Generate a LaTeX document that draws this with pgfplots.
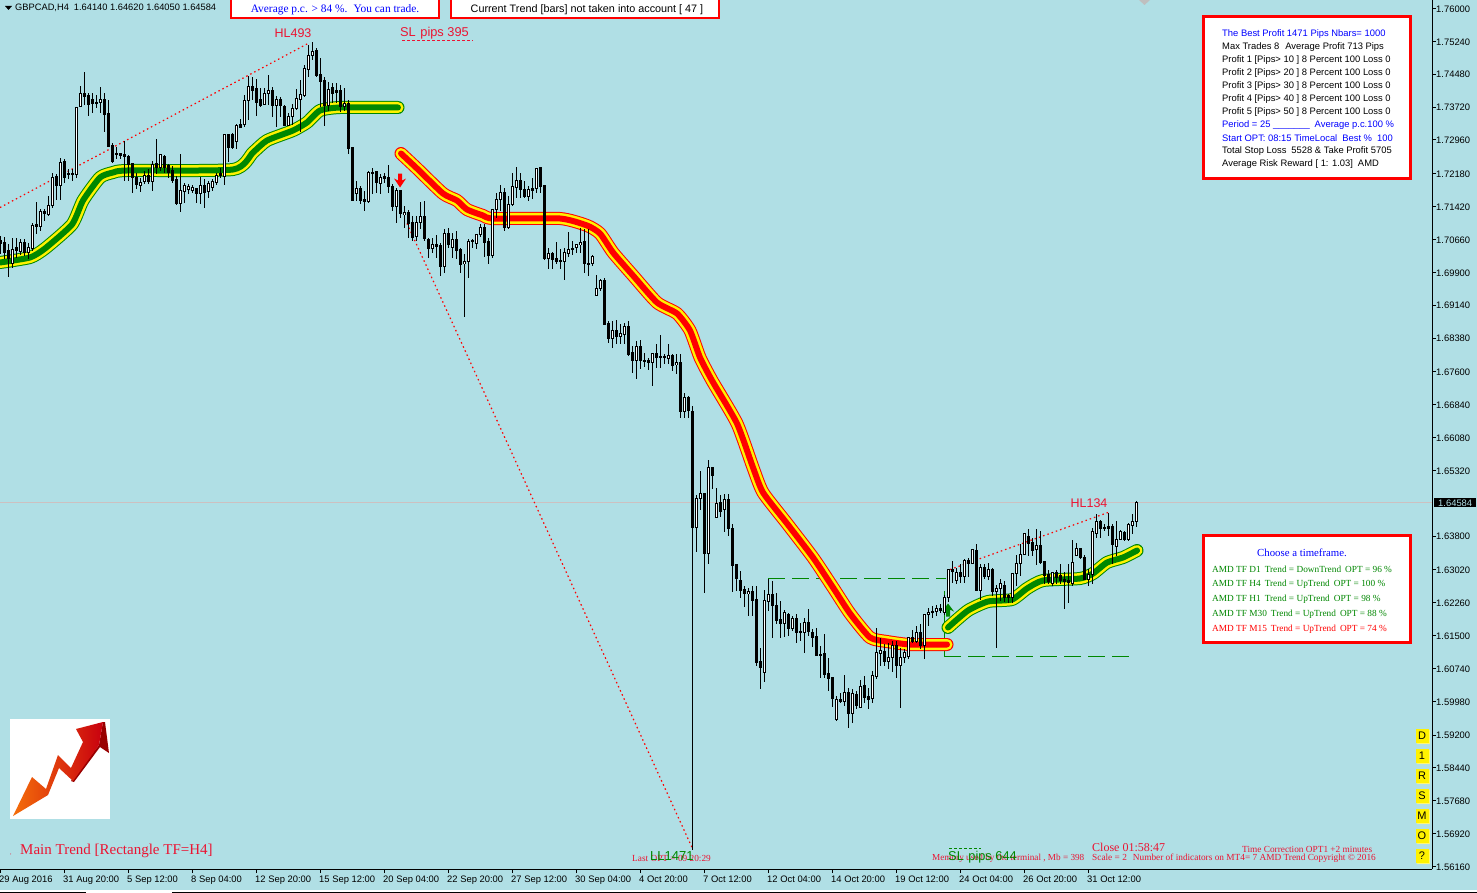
\documentclass[border=0pt]{standalone}
\usepackage{fontspec}
\usepackage{pgfplots}
\usepackage{pgfplotstable}
\pgfplotsset{compat=1.18}
\setmainfont{Liberation Sans}
\newfontfamily\serifa{Liberation Serif}
\newcommand{\fs}[1]{\fontsize{#1}{#1}\selectfont}
\definecolor{bg}{RGB}{176,223,229}
\definecolor{crim}{RGB}{235,20,50}
\definecolor{gg}{RGB}{0,135,0}
\definecolor{bidc}{RGB}{205,192,192}
% Chart rows (downward from the top of the chart) converted to GBPCAD price
\newcommand{\PR}[1]{1.76-(\thisrow{#1}-8)*0.00023124}
\newcommand{\KK}{0.00023124}
% bar o h l c, in chart rows
\pgfplotstableread{
k o h l c
0 240 235 253 243
1 242 236 258 252
2 250 243 276 258
3 263 237 267 249
4 247 237 257 250
5 251 238 254 242
6 242 238 255 252
7 252 242 258 247
8 248 222 250 225
9 224 201 233 226
10 226 208 230 211
11 211 208 220 213
12 214 195 215 205
13 205 172 207 177
14 176 173 199 185
15 185 157 199 162
16 161 158 182 177
17 173 168 178 174
18 173 168 180 174
19 174 106 177 107
20 106 86 107 93
21 93 72 105 96
22 95 93 116 104
23 99 93 113 103
24 102 95 108 103
25 102 87 113 99
26 99 93 132 114
27 113 100 147 146
28 145 142 162 161
29 153 146 159 154
30 153 152 158 155
31 154 140 180 156
32 156 154 180 164
33 163 162 192 177
34 177 172 188 184
35 185 177 191 182
36 181 170 183 175
37 175 168 183 181
38 181 160 190 164
39 163 138 173 167
40 167 153 170 154
41 156 154 172 167
42 165 163 177 172
43 170 165 182 180
44 179 175 204 203
45 203 153 211 190
46 191 182 202 185
47 189 183 193 186
48 190 184 192 187
49 188 187 202 193
50 193 176 203 185
51 185 178 207 192
52 191 180 197 183
53 187 178 190 181
54 182 172 184 175
55 173 167 177 175
56 176 133 184 134
57 134 133 161 147
58 134 132 148 147
59 141 123 148 125
60 124 118 128 127
61 124 95 127 100
62 100 76 120 86
63 86 77 100 90
64 88 79 116 102
65 99 88 107 105
66 104 88 105 93
67 93 75 105 90
68 90 87 117 105
69 105 96 127 99
70 99 97 117 105
71 106 105 125 125
72 125 112 125 116
73 116 103 125 108
74 108 89 110 98
75 99 80 132 94
76 95 65 97 68
77 69 45 77 55
78 55 42 60 51
79 50 48 77 75
80 74 58 107 81
81 80 77 126 105
82 105 82 111 89
83 87 83 103 93
84 90 83 103 92
85 90 85 112 106
86 106 88 111 103
87 103 100 153 148
88 147 147 200 200
89 193 180 200 188
90 188 185 203 200
91 199 190 210 201
92 201 170 202 172
93 172 167 193 173
94 171 170 192 182
95 183 173 193 177
96 176 172 182 178
97 177 164 192 186
98 186 183 210 206
99 206 187 222 190
100 190 190 217 213
101 214 205 227 212
102 212 209 237 223
103 222 215 240 237
104 236 215 240 222
105 222 201 228 216
106 216 200 240 238
107 239 237 257 248
108 248 237 252 244
109 244 234 257 246
110 245 242 275 266
111 266 228 272 233
112 233 227 247 244
113 247 232 257 239
114 239 230 258 250
115 249 247 272 264
116 263 253 316 261
117 261 238 277 241
118 240 238 247 241
119 243 233 248 234
120 234 223 236 227
121 227 223 256 242
122 241 237 263 255
123 255 208 257 209
124 209 192 217 199
125 199 184 210 192
126 192 187 230 227
127 227 195 228 204
128 204 172 205 186
129 187 166 197 180
130 180 172 197 189
131 189 180 197 196
132 196 185 200 189
133 188 177 198 190
134 188 167 192 168
135 167 167 192 186
136 185 185 259 258
137 258 247 268 253
138 253 251 268 259
139 258 241 263 261
140 260 248 268 261
141 261 247 279 252
142 253 231 256 249
143 249 240 254 248
144 247 243 252 244
145 244 227 252 242
146 241 228 272 263
147 263 228 275 264
148 263 254 265 256
149 295 274 295 288
150 288 278 290 280
151 280 277 324 324
152 323 320 342 338
153 338 320 347 330
154 330 319 343 336
155 336 323 343 333
156 334 322 343 326
157 326 320 355 354
158 352 345 372 360
159 360 340 378 346
160 346 339 368 360
161 360 352 366 361
162 360 357 369 362
163 362 352 385 353
164 353 343 367 357
165 356 334 367 357
166 356 353 363 357
167 358 343 363 355
168 355 353 370 365
169 364 353 373 362
170 362 353 417 411
171 411 392 417 397
172 397 395 417 410
173 411 405 849 527
174 527 494 551 498
175 498 470 509 493
176 493 492 592 553
177 553 459 563 467
178 467 466 488 475
179 517 487 517 503
180 502 494 516 511
181 509 493 531 499
182 499 493 535 528
183 528 523 591 565
184 564 563 590 578
185 580 570 597 590
186 589 585 606 593
187 593 587 615 591
188 591 585 615 600
189 599 585 665 662
190 661 647 688 667
191 672 589 681 600
192 601 578 610 594
193 594 580 637 605
194 605 592 623 620
195 619 600 637 623
196 623 609 636 612
197 614 612 635 628
198 628 615 630 618
199 618 613 642 632
200 631 622 640 632
201 632 617 652 622
202 622 608 635 631
203 632 628 646 637
204 636 627 655 655
205 654 645 677 655
206 653 633 677 674
207 673 657 690 678
208 677 677 706 698
209 719 695 720 699
210 699 692 702 701
211 701 674 705 692
212 692 687 727 713
213 713 688 722 693
214 694 690 708 705
215 707 679 707 686
216 685 675 702 697
217 696 687 708 699
218 698 670 702 675
219 676 627 678 652
220 653 637 665 650
221 651 643 665 661
222 661 642 668 657
223 657 640 671 645
224 645 640 677 665
225 665 647 707 657
226 657 648 662 652
227 656 637 658 637
228 637 629 642 641
229 641 625 642 632
230 632 623 648 645
231 645 614 658 614
232 614 607 625 612
233 611 605 617 612
234 611 604 615 608
235 608 603 612 610
236 612 594 614 597
237 597 568 601 569
238 569 560 582 571
239 580 567 583 572
240 572 563 582 576
241 576 558 582 560
242 560 557 576 563
243 563 549 563 549
244 550 543 590 590
245 590 563 599 567
246 567 563 578 576
247 576 562 579 569
248 569 567 595 591
249 591 584 647 588
250 588 578 600 583
251 585 580 601 597
252 595 593 602 597
253 597 573 602 573
254 573 554 585 563
255 563 543 575 554
256 554 533 554 533
257 536 528 555 543
258 542 537 555 550
259 549 528 564 545
260 545 530 563 562
261 561 561 583 575
262 574 569 583 581
263 583 571 585 572
264 572 569 583 577
265 575 563 583 580
266 579 571 608 581
267 580 563 602 582
268 583 539 585 562
269 555 542 555 548
270 548 547 558 557
271 557 554 579 579
272 579 568 585 574
273 574 527 583 531
274 533 513 537 521
275 521 519 537 528
276 527 523 530 528
277 526 512 535 528
278 526 523 563 544
279 546 520 555 539
280 539 529 539 531
281 532 530 540 539
282 539 522 540 524
283 525 513 533 521
284 521 500 526 502
}\bars
\pgfplotstableread{
x y
0 262
30 257
45 248
72 224
83 200
100 177
113 172
127 170
233 169
253 152
267 140
293 130
307 122
320 110
340 107
398 107
}\greenA
\pgfplotstableread{
x y
401 153
417 168
443 193
457 200
467 209
483 215
493 218
560 218
587 225
600 233
613 252
633 275
657 302
677 313
690 330
700 357
712 380
737 423
753 467
763 492
787 523
813 557
833 587
850 613
870 637
887 641
910 644
947 644
}\redA
\pgfplotstableread{
x y
948 627
968 610
988 601
1012 599
1027 588
1043 580
1080 578
1093 573
1107 562
1123 557
1137 550
}\greenB
\pgfplotstableread{
x y
0 207
308 43
nan nan
407 223
692 847
nan nan
950 569
1108 512
}\redDots
\pgfplotstableread{
x y
768 578
946 578
nan nan
944 656
1130 656
}\greenDash
\pgfplotstableread{
x y
768 578
768 600
nan nan
944 590
944 656
}\greenVert
\pgfplotstableread{
x y
398 173
402 173
402 180
406 178
400 187
394 178
398 180
}\dnArrow
\pgfplotstableread{
x y
946 616
950 616
950 609
954 611
948 603
942 611
946 609
}\upArrow
\begin{document}
\begin{tikzpicture}
\useasboundingbox (0,0) rectangle (1477pt,-893pt);
\fill[bg] (0,0) rectangle (1477pt,-893pt);
\begin{axis}[
  at={(0pt,0pt)}, anchor=north west,
  scale only axis, width=1432pt, height=869pt,
  xmin=0, xmax=1432, ymin=1.56102, ymax=1.761966,
  axis x line=bottom, axis y line=right,
  axis line style={black,line width=1pt,-},
  tick style={black,line width=1pt},
  major tick length=4pt, tick align=outside,
  unbounded coords=jump,
  xtick={0,64,128,192,256,320,384,448,512,576,640,704,768,832,896,960,1024,1088},
  xticklabels={29 Aug 2016,31 Aug 20:00,5 Sep 12:00,8 Sep 04:00,12 Sep 20:00,15 Sep 12:00,20 Sep 04:00,22 Sep 20:00,27 Sep 12:00,30 Sep 04:00,4 Oct 20:00,7 Oct 12:00,12 Oct 04:00,14 Oct 20:00,19 Oct 12:00,24 Oct 04:00,26 Oct 20:00,31 Oct 12:00},
  x tick label style={anchor=north west,inner sep=0pt,xshift=-1pt,yshift=-3pt,font=\fs{9.4}},
  ytick={1.76,1.7524,1.7448,1.7372,1.7296,1.7218,1.7142,1.7066,1.699,1.6914,1.6838,1.676,1.6684,1.6608,1.6532,1.638,1.6302,1.6226,1.615,1.6074,1.5998,1.592,1.5844,1.5768,1.5692,1.5616},
  scaled y ticks=false,
  y tick label style={anchor=west,inner sep=0pt,yshift=-0.5pt,font=\fs{9.4},/pgf/number format/.cd,fixed,fixed zerofill,precision=5,assume math mode=true},
]
% bid line
\addplot[bidc,line width=1.2pt,forget plot] coordinates {(0,1.64584) (1432,1.64584)};
% red dotted lines
\addplot[red,line width=1.2pt,dash pattern=on 1.5pt off 3pt] table[x=x,y expr={\PR{y}}] {\redDots};
% green dashed lines
\addplot[gg,line width=1.2pt,dash pattern=on 17pt off 7pt] table[x=x,y expr={\PR{y}}] {\greenDash};
\addplot[gg,line width=1pt] table[x=x,y expr={\PR{y}}] {\greenVert};
% trend bands
\addplot[gg,line width=13pt,line cap=round,line join=round,smooth,tension=0.35] table[x=x,y expr={\PR{y}}] {\greenA};
\addplot[yellow,line width=11pt,line cap=round,line join=round,smooth,tension=0.35] table[x=x,y expr={\PR{y}}] {\greenA};
\addplot[gg,line width=6pt,line cap=round,line join=round,smooth,tension=0.35] table[x=x,y expr={\PR{y}}] {\greenA};
\addplot[red,line width=13pt,line cap=round,line join=round,smooth,tension=0.35] table[x=x,y expr={\PR{y}}] {\redA};
\addplot[yellow,line width=11pt,line cap=round,line join=round,smooth,tension=0.35] table[x=x,y expr={\PR{y}}] {\redA};
\addplot[red,line width=6pt,line cap=round,line join=round,smooth,tension=0.35] table[x=x,y expr={\PR{y}}] {\redA};
\addplot[gg,line width=13pt,line cap=round,line join=round,smooth,tension=0.35] table[x=x,y expr={\PR{y}}] {\greenB};
\addplot[yellow,line width=11pt,line cap=round,line join=round,smooth,tension=0.35] table[x=x,y expr={\PR{y}}] {\greenB};
\addplot[gg,line width=6pt,line cap=round,line join=round,smooth,tension=0.35] table[x=x,y expr={\PR{y}}] {\greenB};
% signal arrows
\addplot[fill=red,draw=none] table[x=x,y expr={\PR{y}}] {\dnArrow};
\addplot[fill=gg,draw=none] table[x=x,y expr={\PR{y}}] {\upArrow};
% candle wicks
\addplot[draw=none,mark=none,error bars/.cd,y dir=both,y explicit,error mark=none,error bar style={draw=black,line width=1pt}]
  table[x expr={4*\thisrow{k}+0.5},y expr={\PR{o}},
        y error plus expr={(\thisrow{o}-\thisrow{h})*\KK},
        y error minus expr={(\thisrow{l}-\thisrow{o})*\KK}] {\bars};
% candle bodies: black outline
\addplot[draw=none,mark=none,error bars/.cd,y dir=both,y explicit,error mark=none,error bar style={draw=black,line width=3pt}]
  table[x expr={4*\thisrow{k}+0.5},
        y expr={1.76-((\thisrow{o}+\thisrow{c})/2-8)*\KK},
        y error plus expr={(abs(\thisrow{o}-\thisrow{c})/2+0.5)*\KK},
        y error minus expr={(abs(\thisrow{o}-\thisrow{c})/2+0.5)*\KK}] {\bars};
% candle bodies: white inside for rising bars (close row above open row)
\addplot[draw=none,mark=none,error bars/.cd,y dir=both,y explicit,error mark=none,error bar style={draw=white,line width=1pt}]
  table[x expr={4*\thisrow{k}+0.5},
        y expr={1.76-((\thisrow{o}+\thisrow{c})/2-8)*\KK},
        y error plus expr={max(0,(\thisrow{o}-\thisrow{c})/2-0.5)*\KK},
        y error minus expr={max(0,(\thisrow{o}-\thisrow{c})/2-0.5)*\KK}] {\bars};
\end{axis}
\begin{scope}[x=1pt,y=-1pt]
% bottom strip
\fill[white] (0,890) rectangle (1477,893);
\draw[black,line width=1pt] (0,892) -- (86,892) (172,892) -- (1477,892);
% price box
\fill[black] (1434,498) rectangle (1476,507);
\node[anchor=west,inner sep=0pt,text=bg,font=\fs{9.4}] at (1438,503) {1.64584};
% header
\fill[black] (5,6) -- (12,6) -- (8.5,10) -- cycle;
\node[anchor=west,inner sep=0pt,font=\fs{9.3}] at (15,8) {GBPCAD,H4\hspace{5pt}1.64140 1.64620 1.64050 1.64584};
\filldraw[fill=white,draw=red,line width=2pt] (231,-2) rectangle (439,18.5);
\node[inner sep=0pt,text=blue,font=\serifa\fs{11.4}] at (335,9.5) {Average p.c. > 84 \%.\hspace{6pt}You can trade.};
\filldraw[fill=white,draw=red,line width=2pt] (451,-2) rectangle (719,18.5);
\node[inner sep=0pt,font=\fs{10.8}] at (587,9.5) {Current Trend [bars] not taken into account [ 47 ]};
\fill[black!25] (1139,0) -- (1150,0) -- (1144.5,5) -- cycle;
% labels
\node[inner sep=0pt,text=crim,font=\fs{12.5}] at (293,33) {HL493};
\node[anchor=west,inner sep=0pt,text=crim,font=\fs{12.8}] at (400,33) {SL\hspace{1pt} pips 395};
\draw[crim,line width=1pt,dash pattern=on 3pt off 2pt] (402,41) -- (473,41);
\node[inner sep=0pt,text=crim,font=\fs{12.5}] at (1089,503) {HL134};
% info panel
\filldraw[fill=white,draw=red,line width=3pt] (1203.5,16.5) rectangle (1410.5,178.5);
\begin{scope}[every node/.style={anchor=west,inner sep=0pt,font=\fs{9.4}}]
\node[text=blue] at (1222,34) {The Best Profit 1471 Pips Nbars= 1000};
\node at (1222,47) {Max Trades 8\hspace{6pt}Average Profit 713 Pips};
\node at (1222,60) {Profit 1 [Pips> 10 ] 8 Percent 100 Loss 0};
\node at (1222,73) {Profit 2 [Pips> 20 ] 8 Percent 100 Loss 0};
\node at (1222,86) {Profit 3 [Pips> 30 ] 8 Percent 100 Loss 0};
\node at (1222,99) {Profit 4 [Pips> 40 ] 8 Percent 100 Loss 0};
\node at (1222,112) {Profit 5 [Pips> 50 ] 8 Percent 100 Loss 0};
\node[text=blue] at (1222,125) {Period = 25 \_\_\_\_\_\_\_\hspace{5pt}Average p.c.100 \%};
\node[text=blue] at (1222,138) {Start OPT: 08:15 TimeLocal\hspace{5pt}Best \%\hspace{5pt}100};
\node at (1222,151) {Total Stop Loss\hspace{5pt}5528 \& Take Profit 5705};
\node at (1222,164) {Average Risk Reward [ 1: 1.03]\hspace{5pt}AMD};
\end{scope}
% timeframe panel
\filldraw[fill=white,draw=red,line width=3pt] (1203.5,535.5) rectangle (1410.5,642.5);
\node[inner sep=0pt,text=blue,font=\serifa\fs{10.8}] at (1302,552.5) {Choose a timeframe.};
\begin{scope}[every node/.style={anchor=west,inner sep=0pt,font=\serifa\fs{9.3}}]
\node[text=gg] at (1212,569) {AMD TF D1\hspace{4pt}Trend = DownTrend\hspace{4pt}OPT = 96 \%};
\node[text=gg] at (1212,584) {AMD TF H4\hspace{4pt}Trend = UpTrend\hspace{4pt}OPT = 100 \%};
\node[text=gg] at (1212,599) {AMD TF H1\hspace{4pt}Trend = UpTrend\hspace{4pt}OPT = 98 \%};
\node[text=gg] at (1212,614) {AMD TF M30\hspace{4pt}Trend = UpTrend\hspace{4pt}OPT = 88 \%};
\node[text=red] at (1212,629) {AMD TF M15\hspace{4pt}Trend = UpTrend\hspace{4pt}OPT = 74 \%};
\end{scope}
% logo
\fill[white] (10,719) rectangle (110,819);
\fill[red!60!black] (103,722) -- (105,722) -- (109,753) -- (100,747) -- (74,782) -- (71,781) -- (99,745) -- cycle;
\definecolor{logoA}{RGB}{245,110,10}
\definecolor{logoB}{RGB}{200,0,15}
\path[left color=logoA,right color=logoB] (13,816) -- (32,777) -- (46,789) -- (58,755) -- (71,768) -- (83,742) -- (76,729) -- (103,722) -- (99,745) -- (73,781) -- (59,768) -- (48,795) -- cycle;
% bottom texts
\node[anchor=west,inner sep=0pt,text=crim,font=\serifa\fs{15}] at (20,850.5) {Main Trend [Rectangle TF=H4]};
\node[anchor=west,inner sep=0pt,text=crim,font=\serifa\fs{6}] at (10,855) {,};
\node[anchor=west,inner sep=0pt,text=crim,font=\serifa\fs{9.3}] at (632,858.5) {Last OPT = 09 20:29};
\node[anchor=west,inner sep=0pt,text=gg,font=\fs{13}] at (650,856) {LL1471};
\node[anchor=west,inner sep=0pt,text=crim,font=\serifa\fs{9.2}] at (932,858.5) {Memory used by the terminal , Mb = 398};
\node[anchor=west,inner sep=0pt,text=gg,font=\fs{12.8}] at (948,857) {SL\hspace{1pt} pips 644};
\draw[gg,line width=1pt,dash pattern=on 3pt off 2pt] (949,848) -- (981,848);
\node[anchor=west,inner sep=0pt,text=crim,font=\serifa\fs{12}] at (1092,847) {Close 01:58:47};
\node[anchor=west,inner sep=0pt,text=crim,font=\serifa\fs{9.3}] at (1242,849.5) {Time Correction OPT1 +2 minutes};
\node[anchor=west,inner sep=0pt,text=crim,font=\serifa\fs{9.3}] at (1092,858.5) {Scale = 2\hspace{6pt}Number of indicators on MT4= 7 AMD Trend Copyright © 2016};
% buttons
\foreach \r/\t in {736/D,756/1,776/R,796/S,816/M,836/O,856/?}{
  \fill[yellow!55!white] (1416.5,\r-6) rectangle (1430,\r+7.5);
  \fill[yellow] (1415.5,\r-7) rectangle (1429,\r+6.5);
  \node[inner sep=0pt,font=\fs{11}] at (1422,\r) {\t};
}
\end{scope}
\end{tikzpicture}
\end{document}
